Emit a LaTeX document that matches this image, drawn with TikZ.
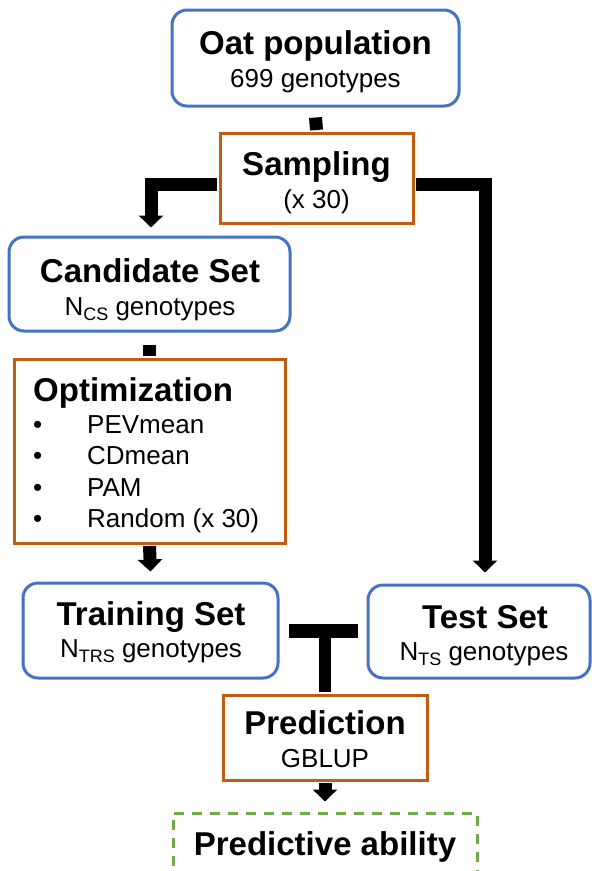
\documentclass[tikz,border=0pt]{standalone}
\usepackage{fontspec}
\setmainfont{Liberation Sans}
\usetikzlibrary{arrows.meta,calc}
\definecolor{bblue}{HTML}{4472C4}
\definecolor{borange}{HTML}{C55A11}
\definecolor{bgreen}{HTML}{70AD47}
\newcommand\subx[1]{\raisebox{-5pt}{\fontsize{18}{18}\selectfont #1}}
\tikzset{
  bluebox/.style={draw=bblue, line width=3pt, rounded corners=15pt, rectangle, inner sep=0pt, fill=white},
  orangebox/.style={draw=borange, line width=3pt, rectangle, inner sep=0pt, fill=white},
  greenbox/.style={draw=bgreen, line width=3pt, dash pattern=on 10pt off 8pt, rectangle, inner sep=0pt},
  ttl/.style={font=\fontsize{33}{33}\selectfont\bfseries, anchor=base, inner sep=0pt},
  subt/.style={font=\fontsize{26}{26}\selectfont, anchor=base, inner sep=0pt},
  item/.style={font=\fontsize{26}{26}\selectfont, anchor=base west, inner sep=0pt},
  conn/.style={line width=13pt, black},
  arr/.style={conn, -{Triangle[width=24pt,length=12pt]}},
}
\begin{document}
\begin{tikzpicture}[x=1pt,y=-1pt]
\clip (0,0) rectangle (592,871);
\fill[white] (0,0) rectangle (592,871);
% boxes
\node[bluebox, minimum width=287pt, minimum height=96pt] (oat) at (315.5,58) {};
\node[orangebox, minimum width=193pt, minimum height=90pt] (samp) at (316.5,178) {};
\node[bluebox, minimum width=281pt, minimum height=94pt] (cand) at (149.5,284) {};
\node[orangebox, minimum width=271pt, minimum height=184pt] (opt) at (149.5,451) {};
\node[bluebox, minimum width=255pt, minimum height=95pt] (train) at (150.5,630.5) {};
\node[bluebox, minimum width=222pt, minimum height=93pt] (test) at (479,631.5) {};
\node[orangebox, minimum width=204pt, minimum height=85pt] (pred) at (325,737.5) {};
\node[greenbox, minimum width=304pt, minimum height=87pt] (pa) at (325,856.5) {};
% texts
\node[ttl] (oatT) at (315.5,54) {Oat population};
\node[subt] (oatS) at (315.5,87) {699 genotypes};
\node[ttl] (sampT) at (316.5,175) {Sampling};
\node[subt] (sampS) at (316.5,208) {(x 30)};
\node[ttl] (candT) at (150,282) {Candidate Set};
\node[subt] (candS) at (150,315) {N\subx{CS} genotypes};
\node[ttl, anchor=base west] (optT) at (33,401) {Optimization};
\node[item] (b1) at (33,433) {\textbullet};
\node[item] (i1) at (87,433) {PEVmean};
\node[item] (b2) at (33,464) {\textbullet};
\node[item] (i2) at (87,464) {CDmean};
\node[item] (b3) at (33,496) {\textbullet};
\node[item] (i3) at (87,496) {PAM};
\node[item] (b4) at (33,527) {\textbullet};
\node[item] (i4) at (87,527) {Random (x 30)};
\node[ttl] (trainT) at (151,625) {Training Set};
\node[subt] (trainS) at (151,657) {N\subx{TRS} genotypes};
\node[ttl] (testT) at (485,628) {Test Set};
\node[subt] (testS) at (484,660) {N\subx{TS} genotypes};
\node[ttl] (predT) at (325,734) {Prediction};
\node[subt] (predS) at (325,767) {GBLUP};
\node[ttl] (paT) at (325,855) {Predictive ability};
% connectors
\draw[conn] ([yshift=-10pt]oat.south) -- ([yshift=1.5pt]samp.north);
\draw[arr] ([xshift=-1.5pt,yshift=-6.5pt]samp.west) -| ([xshift=1.5pt,yshift=8pt]cand.north);
\draw[arr] ([xshift=1.5pt,yshift=-6.5pt]samp.east) -| ([xshift=6pt,yshift=11pt]test.north);
\draw[conn] ([yshift=-12pt]cand.south) -- ([yshift=1.5pt]opt.north);
\draw[arr] ([yshift=-1.5pt]opt.south) -- ([yshift=10pt]train.north);
\coordinate (tr) at (train.east -| test.west);
\coordinate (tj) at (pred.north |- train.east);
\draw[conn, line width=14pt] ([xshift=9pt]train.east) -- ([xshift=-9pt]tr);
\draw[conn, line width=12pt] (tj) -- ([yshift=1.5pt]pred.north);
\draw[arr] ([yshift=-1.5pt]pred.south) -- ([yshift=10pt]pa.north);
\end{tikzpicture}
\end{document}
